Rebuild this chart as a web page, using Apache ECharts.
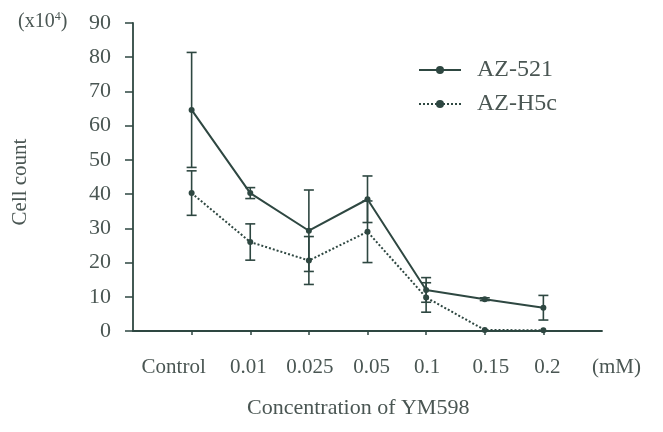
<!DOCTYPE html>
<html>
<head>
<meta charset="utf-8">
<script src="https://cdn.jsdelivr.net/npm/echarts@6/dist/echarts.min.js"></script>
<style>
html,body{margin:0;padding:0;background:#fff;}
#chart{width:663px;height:432px;}
</style>
</head>
<body>
<div id="chart"></div>
<script>
var categories = ['Control', '0.01', '0.025', '0.05', '0.1', '0.15', '0.2'];
var az521 = [64.6, 40.3, 29.3, 38.5, 12.0, 9.3, 6.8];
var az521Err = [16.8, 1.6, 11.9, 6.8, 3.6, 0.4, 3.6];
var azH5c = [40.3, 26.0, 20.6, 29.0, 9.8, 0.3, 0.2];
var azH5cErr = [6.5, 5.3, 7.0, 9.0, 4.3, 0, 0];
var yTicks = [0, 10, 20, 30, 40, 50, 60, 70, 80, 90];

var ink = '#2e4741';
var textColor = '#4a5653';
var font = 'Liberation Serif';

// small horizontal nudges of the category labels, as printed in the source figure
var labelNudge = [-18, -2, 1, 4, 1, 6, 4];

function pairs(vals) { return vals.map(function (v, i) { return [i, v]; }); }
function errData(vals, errs) { return vals.map(function (v, i) { return [i, v - errs[i], v + errs[i]]; }); }

function errRender(params, api) {
  var x = api.value(0);
  var lo = api.coord([x, api.value(1)]);
  var hi = api.coord([x, api.value(2)]);
  if (Math.abs(hi[1] - lo[1]) < 1) return;
  var hw = 5;
  var st = { stroke: ink, lineWidth: 1.6 };
  return {
    type: 'group',
    children: [
      { type: 'line', shape: { x1: lo[0], y1: lo[1], x2: hi[0], y2: hi[1] }, style: st },
      { type: 'line', shape: { x1: lo[0] - hw, y1: lo[1], x2: lo[0] + hw, y2: lo[1] }, style: st },
      { type: 'line', shape: { x1: hi[0] - hw, y1: hi[1], x2: hi[0] + hw, y2: hi[1] }, style: st }
    ]
  };
}

var labelRich = {};
labelNudge.forEach(function (d, i) {
  labelRich['c' + i] = {
    fontFamily: font, fontSize: 21, color: textColor,
    padding: d >= 0 ? [0, 0, 0, 2 * d] : [0, -2 * d, 0, 0]
  };
});

var chart = echarts.init(document.getElementById('chart'));
chart.setOption({
  backgroundColor: '#ffffff',
  animation: false,
  title: [
    { text: '(x10{sup|4})', left: 13, top: 6,
      textStyle: { fontFamily: font, fontSize: 20, fontWeight: 'normal', color: textColor,
        rich: { sup: { fontFamily: font, fontSize: 12, verticalAlign: 'top', color: textColor, padding: [0, 0, 9, 0] } } } },
    { text: 'Concentration of YM598', left: 242, top: 392,
      textStyle: { fontFamily: font, fontSize: 22, fontWeight: 'normal', color: textColor } }
  ],
  legend: {
    orient: 'vertical', left: 418, top: 58, padding: 0, itemWidth: 42, itemHeight: 10, itemGap: 10,
    textStyle: { fontFamily: font, fontSize: 24, color: textColor, padding: [0, 0, 0, 11] },
    data: ['AZ-521', 'AZ-H5c']
  },
  grid: { left: 133, right: 61, top: 23, bottom: 101 },
  xAxis: {
    type: 'value', min: -1, max: 7, interval: 1,
    splitLine: { show: false },
    axisLine: { lineStyle: { color: ink, width: 1.8 } },
    axisTick: { length: 4, customValues: [0, 1, 2, 3, 4, 5, 6], lineStyle: { color: ink, width: 1.5 } },
    axisLabel: {
      customValues: [0, 1, 2, 3, 4, 5, 6], margin: 26,
      formatter: function (v) { var i = Math.round(v); return '{c' + i + '|' + categories[i] + '}'; },
      rich: labelRich,
      fontFamily: font, fontSize: 21, color: textColor
    },
    name: '(mM)', nameLocation: 'end', nameGap: -10,
    nameTextStyle: { fontFamily: font, fontSize: 21, color: textColor, verticalAlign: 'top', padding: [26, 0, 0, 0] }
  },
  yAxis: {
    type: 'value', min: 0, max: 90, interval: 10,
    splitLine: { show: false },
    axisLine: { show: true, onZero: false, lineStyle: { color: ink, width: 1.8 } },
    axisTick: { show: true, length: 8, lineStyle: { color: ink, width: 1.5 } },
    axisLabel: { margin: 22, fontFamily: font, fontSize: 22, color: textColor },
    name: 'Cell count', nameLocation: 'middle', nameRotate: 90, nameGap: 102,
    nameTextStyle: { fontFamily: font, fontSize: 21, color: textColor, padding: [0, 10, 0, 0] }
  },
  series: [
    { name: 'AZ-521', type: 'line', data: pairs(az521), symbol: 'circle', symbolSize: 6,
      itemStyle: { color: ink }, lineStyle: { color: ink, width: 2 }, z: 3 },
    { name: 'AZ-H5c', type: 'line', data: pairs(azH5c), symbol: 'circle', symbolSize: 6,
      itemStyle: { color: ink }, lineStyle: { color: ink, width: 2, type: [2, 2] }, z: 3 },
    { type: 'custom', data: errData(az521, az521Err), renderItem: errRender, encode: { x: 0, y: [1, 2] }, z: 2 },
    { type: 'custom', data: errData(azH5c, azH5cErr), renderItem: errRender, encode: { x: 0, y: [1, 2] }, z: 2 }
  ]
});
</script>
</body>
</html>
